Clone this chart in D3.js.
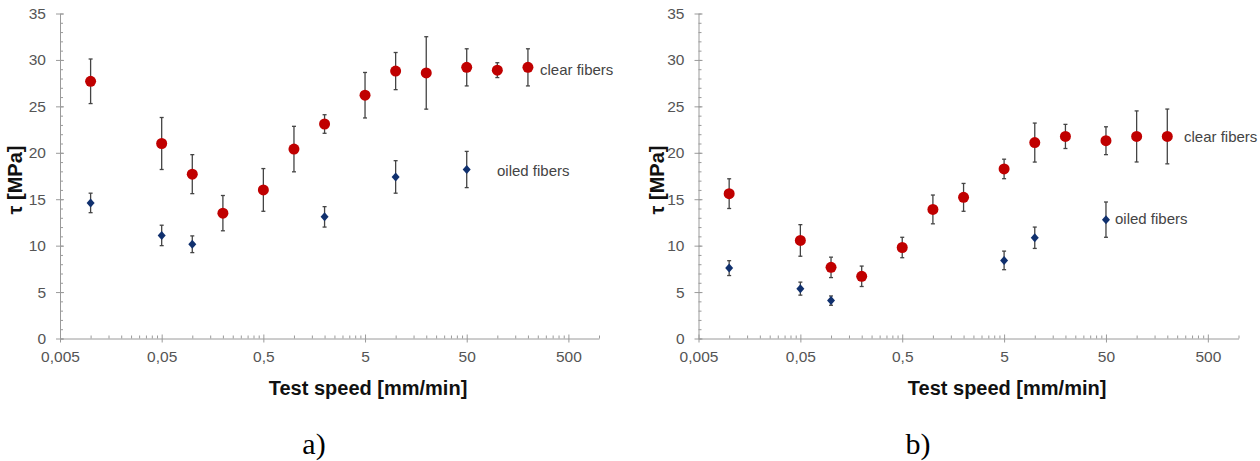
<!DOCTYPE html>
<html>
<head>
<meta charset="utf-8">
<script src="https://cdn.jsdelivr.net/npm/d3@7"></script>
<style>
  html, body { margin: 0; padding: 0; background: #fff; }
  svg { display: block; }
</style>
</head>
<body>
<svg id="chart" width="1260" height="461"></svg>
<script>
// ---- data ----
const speeds = [0.01, 0.05, 0.1, 0.2, 0.5, 1, 2, 5, 10, 20, 50, 100, 200];
const clearA = [27.7, 21.0, 17.7, 13.5, 16.0, 20.4, 23.1, 26.2, 28.8, 28.6, 29.2, 28.9, 29.2];
const clearAErr = [2.4, 2.8, 2.1, 1.9, 2.3, 2.45, 1.0, 2.45, 2.0, 3.9, 2.0, 0.8, 2.0];
const oiledSpeedsA = [0.01, 0.05, 0.1, 2, 10, 50];
const oiledA = [14.6, 11.1, 10.15, 13.1, 17.4, 18.2];
const oiledAErr = [1.05, 1.1, 0.9, 1.1, 1.75, 1.95];

const clearB = [15.6, 10.56, 7.66, 6.7, 9.8, 13.9, 15.2, 18.26, 21.1, 21.76, 21.3, 21.76, 21.76];
const clearBErr = [1.6, 1.7, 1.1, 1.1, 1.1, 1.55, 1.5, 1.05, 2.1, 1.3, 1.5, 2.75, 2.95];
const oiledSpeedsB = [0.01, 0.05, 0.1, 5, 10, 50];
const oiledB = [7.58, 5.37, 4.08, 8.41, 10.85, 12.8];
const oiledBErr = [0.8, 0.7, 0.5, 1.0, 1.15, 1.9];

const xTickValues = [0.005, 0.05, 0.5, 5, 50, 500];
const xTickLabels = ["0,005", "0,05", "0,5", "5", "50", "500"];
const yTickValues = [0, 5, 10, 15, 20, 25, 30, 35];
const seriesNames = ["clear fibers", "oiled fibers"];
const panelLabels = ["a)", "b)"];
const xTitle = "Test speed [mm/min]";
const yTitle = "τ [MPa]";

// ---- drawing ----
const svg = d3.select("#chart");
const RED = "#c00000", BLUE = "#10306e", BAR = "#444", AXIS = "#9a9a9a", TXT = "#555";
const SANS = "'Liberation Sans', Arial, sans-serif";

const panels = [
  { x0: 60, x1: 599, clear: clearA, clearErr: clearAErr, oSp: oiledSpeedsA, oiled: oiledA, oiledErr: oiledAErr,
    clearLbl: [540, 70], oiledLbl: [497, 171], yTitleX: 22, labelX: 314 },
  { x0: 698.5, x1: 1238.5, clear: clearB, clearErr: clearBErr, oSp: oiledSpeedsB, oiled: oiledB, oiledErr: oiledBErr,
    clearLbl: [1184, 137], oiledLbl: [1115, 219], yTitleX: 664, labelX: 918 }
];

const minorX = [];
for (let n = 0; n <= 4; n++) for (let k = 2; k <= 9; k++) minorX.push(0.005 * k * Math.pow(10, n));
minorX.push(1000);
const minorY = d3.range(0, 36, 1);

panels.forEach((p, i) => {
  const x = d3.scaleLog().domain([0.005, 1000]).range([p.x0, p.x1]);
  const y = d3.scaleLinear().domain([0, 35]).range([338.5, 13.5]);
  const g = svg.append("g");

  // y minor ticks (inward)
  g.append("g").attr("transform", `translate(${p.x0},0)`)
    .call(d3.axisLeft(y).tickValues(minorY).tickSize(-3).tickFormat(""))
    .call(s => s.select(".domain").remove())
    .selectAll("line").attr("stroke", AXIS);
  // x minor ticks (inward)
  g.append("g").attr("transform", `translate(0,338.5)`)
    .call(d3.axisBottom(x).tickValues(minorX).tickSize(-3).tickFormat(""))
    .call(s => s.select(".domain").remove())
    .selectAll("line").attr("stroke", AXIS);

  // y axis
  const ya = g.append("g").attr("transform", `translate(${p.x0},0)`)
    .call(d3.axisLeft(y).tickValues(yTickValues).tickSize(4).tickSizeOuter(0).tickPadding(10));
  ya.select(".domain").attr("stroke", AXIS);
  ya.selectAll(".tick line").attr("stroke", AXIS).attr("x1", 4);
  ya.selectAll(".tick text").attr("fill", TXT).style("font", `15.5px ${SANS}`);

  // x axis
  const xa = g.append("g").attr("transform", `translate(0,338.5)`)
    .call(d3.axisBottom(x).tickValues(xTickValues).tickFormat((d, j) => xTickLabels[j]).tickSize(4).tickSizeOuter(0).tickPadding(8));
  xa.select(".domain").attr("stroke", AXIS);
  xa.selectAll(".tick line").attr("stroke", AXIS).attr("y1", -4);
  xa.selectAll(".tick text").attr("fill", TXT).style("font", `15.5px ${SANS}`);

  // titles
  g.append("text").attr("x", x(5) + 3).attr("y", 395)
    .attr("text-anchor", "middle").attr("fill", "#111")
    .style("font", `bold 20px ${SANS}`).text(xTitle);
  g.append("text").attr("transform", `translate(${p.yTitleX},180) rotate(-90)`)
    .attr("text-anchor", "middle").attr("fill", "#111")
    .style("font", `bold 20px ${SANS}`).text(yTitle);
  g.append("text").attr("x", p.labelX).attr("y", 454).attr("text-anchor", "middle").attr("fill", "#000")
    .style("font", "30px 'Liberation Serif', 'Times New Roman', serif").text(panelLabels[i]);

  // error bars helper
  function bars(xs, ys, es) {
    const eg = g.append("g").attr("stroke", BAR).attr("stroke-width", 1.3);
    xs.forEach((v, j) => {
      const cx = x(v), t = y(ys[j] + es[j]), b = y(ys[j] - es[j]);
      eg.append("line").attr("x1", cx).attr("x2", cx).attr("y1", t).attr("y2", b);
      eg.append("line").attr("x1", cx - 2).attr("x2", cx + 2).attr("y1", t).attr("y2", t);
      eg.append("line").attr("x1", cx - 2).attr("x2", cx + 2).attr("y1", b).attr("y2", b);
    });
  }
  bars(speeds, p.clear, p.clearErr);
  bars(p.oSp, p.oiled, p.oiledErr);

  g.append("g").selectAll("circle").data(speeds).join("circle")
    .attr("cx", d => x(d)).attr("cy", (d, j) => y(p.clear[j])).attr("r", 5.5).attr("fill", RED);
  g.append("g").selectAll("path").data(p.oSp).join("path")
    .attr("transform", (d, j) => `translate(${x(d)},${y(p.oiled[j])})`)
    .attr("d", "M0,-4.5L4,0L0,4.5L-4,0Z").attr("fill", BLUE);

  g.append("text").attr("x", p.clearLbl[0]).attr("y", p.clearLbl[1]).attr("dy", "0.35em")
    .attr("fill", "#444").style("font", `15px ${SANS}`).text(seriesNames[0]);
  g.append("text").attr("x", p.oiledLbl[0]).attr("y", p.oiledLbl[1]).attr("dy", "0.35em")
    .attr("fill", "#444").style("font", `15px ${SANS}`).text(seriesNames[1]);
});
</script>
</body>
</html>
